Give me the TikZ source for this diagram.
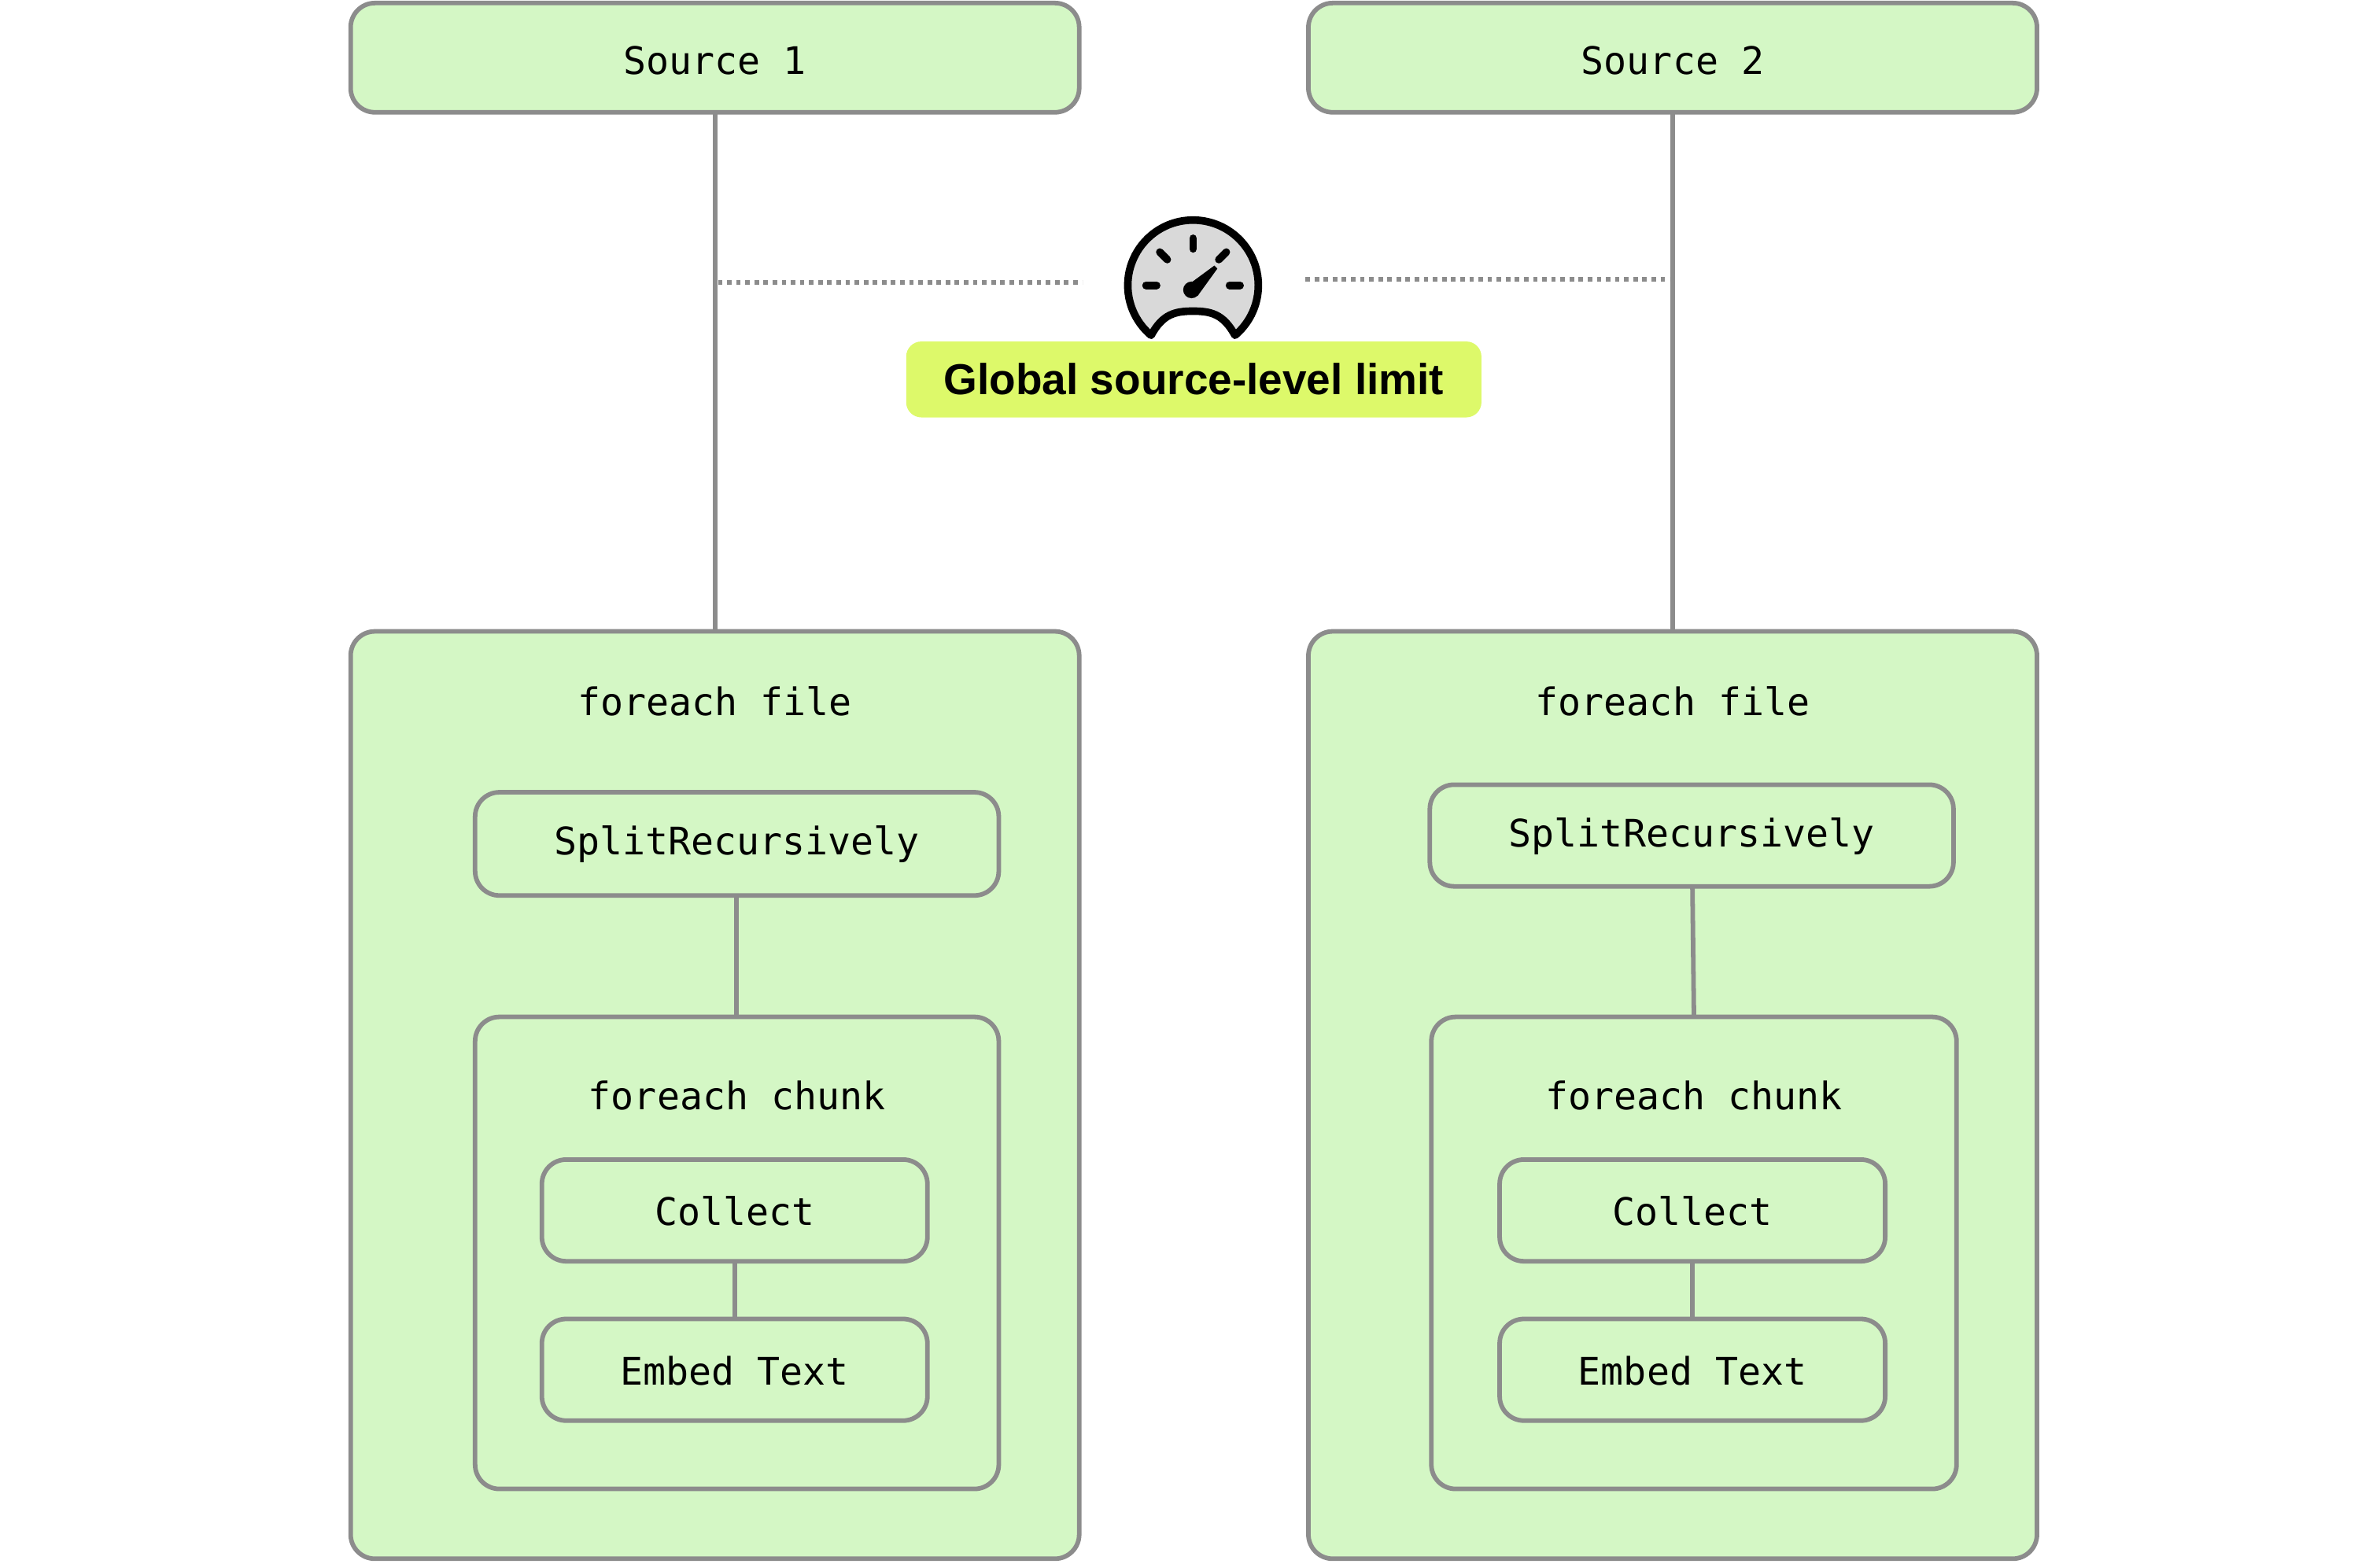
\documentclass[tikz,border=0pt]{standalone}
\usepackage{fontspec}
\setmainfont{Liberation Sans}
\newfontfamily\monof{DejaVu Sans Mono}
\begin{document}
\begin{tikzpicture}[x=1pt,y=-1pt,
  bx/.style={draw=boxgray,fill=boxgreen,line width=3pt,rounded corners=16pt},
  lbl/.style={font=\monof\fontsize{25}{30}\selectfont},
  ln/.style={draw=boxgray,line width=3pt}]
\definecolor{boxgreen}{HTML}{D4F7C5}
\definecolor{boxgray}{HTML}{8C8C8C}
\definecolor{limitc}{HTML}{DDF96A}
\useasboundingbox (0,0) rectangle (1568,1030);
% sources
\draw[bx] (231,2) rectangle (711,74); \node[lbl] (s1) at (471,40) {Source 1};
\draw[bx] (862,2) rectangle (1342,74); \node[lbl] (s2) at (1102,40) {Source 2};
\coordinate (s1b) at (471,74); \coordinate (s2b) at (1102,74);
\coordinate (f1t) at (471,416); \coordinate (f2t) at (1102,416);
\draw[ln] (s1b) -- (f1t); \draw[ln] (s2b) -- (f2t);
% dotted
\coordinate (d1a) at (473,186); \coordinate (d1b) at (713,186);
\coordinate (d2a) at (860,184); \coordinate (d2b) at (1100,184);
\draw[boxgray,line width=3pt,dash pattern=on 3pt off 3pt] (d1a) -- (d1b);
\draw[boxgray,line width=3pt,dash pattern=on 3pt off 3pt] (d2a) -- (d2b);
% gauge
\begin{scope}[shift={(786,188)},yscale=-1]
  \draw[black,fill=gray!30,line width=5pt,line join=round]
    (-50:43) arc[start angle=-50,end angle=230,radius=43]
    .. controls (-20,-19) and (-12,-17) .. (0,-17)
    .. controls (12,-17) and (20,-19) .. (-50:43) -- cycle;
  \foreach \a in {180,135,90,45,0}
    \draw[black,line width=5pt,line cap=round] (\a:24) -- (\a:31);
  \fill[black] (-1,-3) circle (5.5);
  \fill[black] (-5,-1) -- (14,13) -- (16,11) -- (3,-7) -- cycle;
\end{scope}
\node[fill=limitc,rounded corners=10pt,minimum width=379pt,minimum height=50pt,
  font=\bfseries\fontsize{28.5}{32}\selectfont] (lim) at (786.5,250) {Global source-level limit};
% left column
\draw[bx] (231,416) rectangle (711,1027);
\node[lbl] (ff1) at (471,462) {foreach file};
\draw[bx] (313,522) rectangle (658,590); \node[lbl] (sp1) at (485.5,556) {SplitRecursively};
\draw[bx] (313,670) rectangle (658,981);
\node[lbl] (fc1) at (485.5,722) {foreach chunk};
\draw[bx] (357,764) rectangle (611,831); \node[lbl] (c1) at (484,798) {Collect};
\draw[bx] (357,869) rectangle (611,936); \node[lbl] (e1) at (484,903) {Embed Text};
\draw[ln] (485,590) -- (485,670);
\draw[ln] (484,831) -- (484,869);
% right column
\draw[bx] (862,416) rectangle (1342,1027);
\node[lbl] (ff2) at (1102,462) {foreach file};
\draw[bx] (942,517) rectangle (1287,584); \node[lbl] (sp2) at (1114.5,551) {SplitRecursively};
\draw[bx] (943,670) rectangle (1289,981);
\node[lbl] (fc2) at (1116,722) {foreach chunk};
\draw[bx] (988,764) rectangle (1242,831); \node[lbl] (c2) at (1115,798) {Collect};
\draw[bx] (988,869) rectangle (1242,936); \node[lbl] (e2) at (1115,903) {Embed Text};
\draw[ln] (1115,584) -- (1116,670);
\draw[ln] (1115,831) -- (1115,869);
\end{tikzpicture}
\end{document}
